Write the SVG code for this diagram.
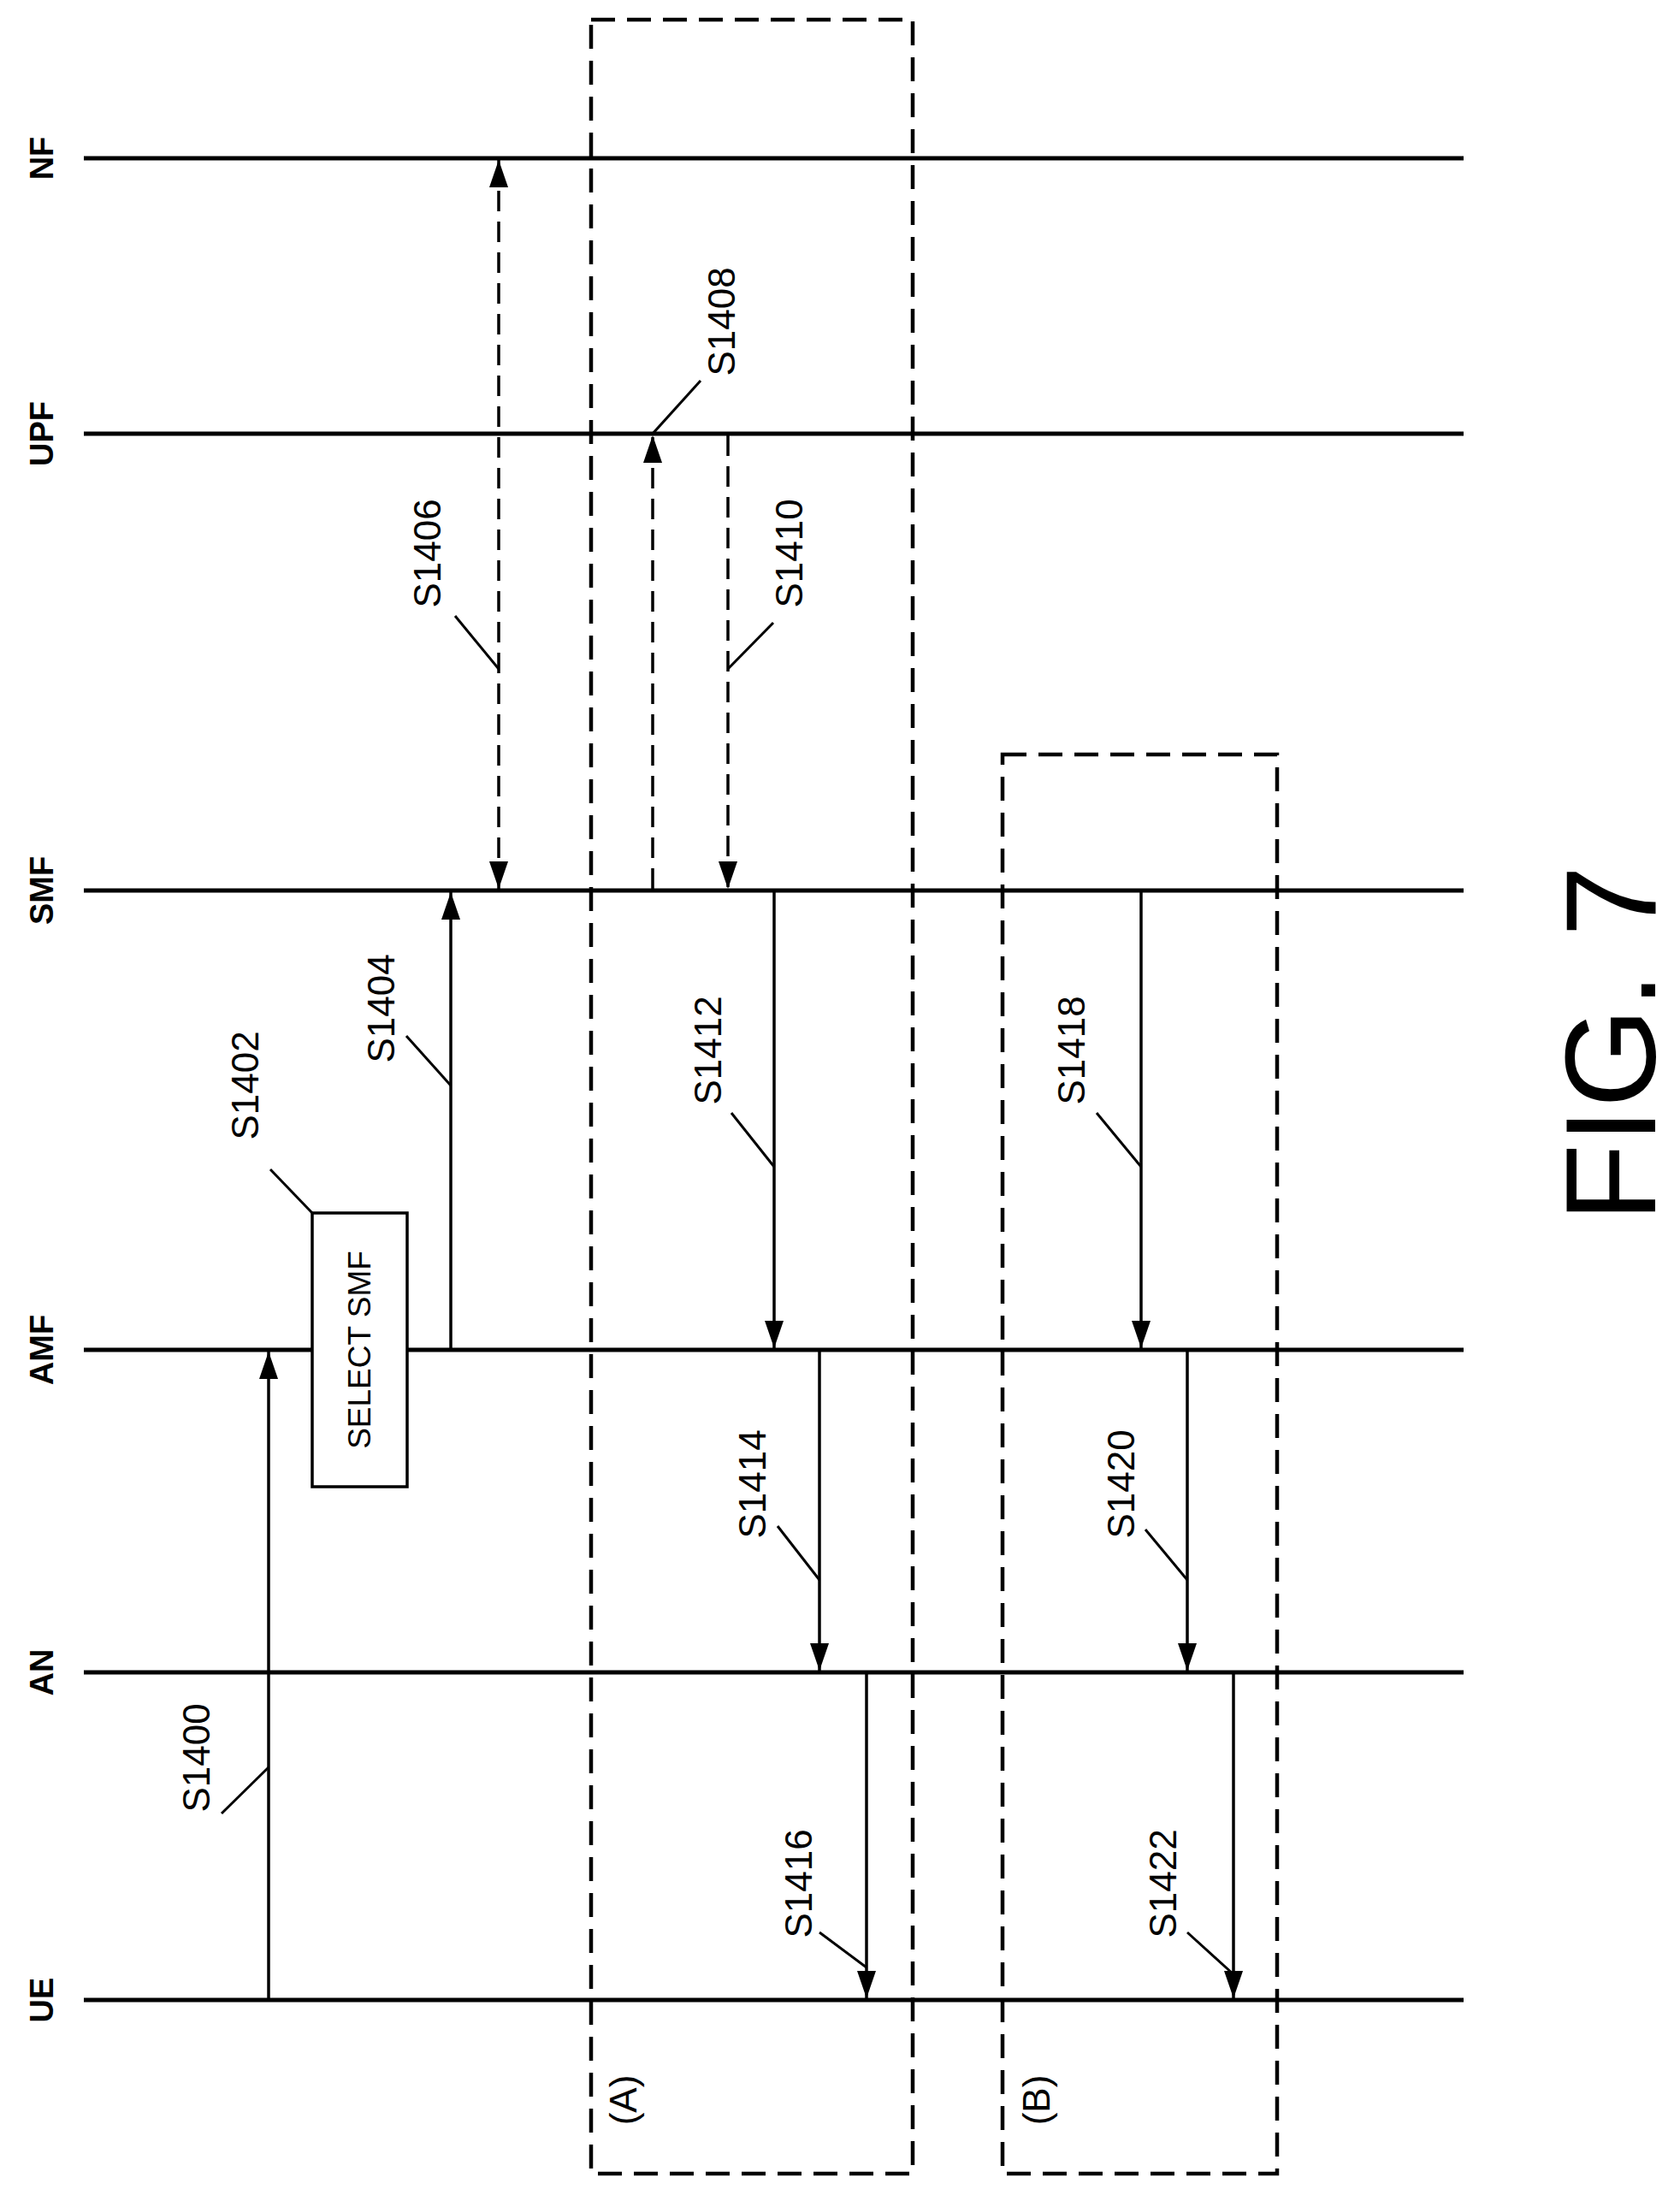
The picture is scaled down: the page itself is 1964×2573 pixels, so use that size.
<svg xmlns="http://www.w3.org/2000/svg" width="1964" height="2573" viewBox="0 0 1964 2573">
<style>
.life{stroke:#000;stroke-width:5;fill:none}
.msg{stroke:#000;stroke-width:3.5;fill:none}
.dash{stroke:#000;stroke-width:3.5;fill:none;stroke-dasharray:24 12}
.box{stroke:#000;stroke-width:4.5;fill:none;stroke-dasharray:28 14}
.lead{stroke:#000;stroke-width:3;fill:none}
.t{font-family:"Liberation Sans",Arial,sans-serif;font-size:44px;fill:#000}
.ln{font-family:"Liberation Sans",Arial,sans-serif;font-size:38px;font-weight:bold;fill:#000}
</style>
<defs>
<marker id="a" markerUnits="userSpaceOnUse" markerWidth="34" markerHeight="22" refX="32" refY="11" orient="auto-start-reverse" viewBox="0 0 34 22">
<path d="M0,0 L32,11 L0,22 Z" fill="#000"/>
</marker>
</defs>
<g id="lifelines">
<line class="life" x1="98" y1="185" x2="1711" y2="185"/>
<line class="life" x1="98" y1="507" x2="1711" y2="507"/>
<line class="life" x1="98" y1="1041" x2="1711" y2="1041"/>
<line class="life" x1="98" y1="1578" x2="1711" y2="1578"/>
<line class="life" x1="98" y1="1955" x2="1711" y2="1955"/>
<line class="life" x1="98" y1="2338" x2="1711" y2="2338"/>
<text class="ln" text-anchor="middle" dominant-baseline="central" transform="translate(49,185) rotate(-90)">NF</text>
<text class="ln" text-anchor="middle" dominant-baseline="central" transform="translate(49,507) rotate(-90)">UPF</text>
<text class="ln" text-anchor="middle" dominant-baseline="central" transform="translate(49,1041) rotate(-90)">SMF</text>
<text class="ln" text-anchor="middle" dominant-baseline="central" transform="translate(49,1578) rotate(-90)">AMF</text>
<text class="ln" text-anchor="middle" dominant-baseline="central" transform="translate(49,1955) rotate(-90)">AN</text>
<text class="ln" text-anchor="middle" dominant-baseline="central" transform="translate(49,2338) rotate(-90)">UE</text>
</g>
<g id="boxA">
<rect class="box" x="691" y="23" width="376" height="2518"/>
<text class="t" text-anchor="middle" dominant-baseline="central" transform="translate(728,2455) rotate(-90)">(A)</text>
</g>
<g id="boxB">
<rect class="box" x="1172" y="882" width="321" height="1659"/>
<text class="t" text-anchor="middle" dominant-baseline="central" transform="translate(1211,2455) rotate(-90)">(B)</text>
</g>
<g id="S1402">
<rect x="365" y="1418" width="111" height="320" fill="#fff" stroke="#000" stroke-width="3.5"/>
<text class="t" style="font-size:37px" text-anchor="middle" dominant-baseline="central" transform="translate(420,1578) rotate(-90)">SELECT SMF</text>
</g>
<g id="connectors">
<line class="msg" x1="314" y1="2338" x2="314" y2="1580" marker-end="url(#a)"/>
<line class="msg" x1="527" y1="1578" x2="527" y2="1043" marker-end="url(#a)"/>
<line class="dash" x1="583" y1="187" x2="583" y2="1039" marker-start="url(#a)" marker-end="url(#a)"/>
<line class="dash" x1="763" y1="1039" x2="763" y2="509" marker-end="url(#a)"/>
<line class="dash" x1="851" y1="509" x2="851" y2="1039" marker-end="url(#a)"/>
<line class="msg" x1="905" y1="1041" x2="905" y2="1576" marker-end="url(#a)"/>
<line class="msg" x1="958" y1="1578" x2="958" y2="1953" marker-end="url(#a)"/>
<line class="msg" x1="1013" y1="1955" x2="1013" y2="2336" marker-end="url(#a)"/>
<line class="msg" x1="1334" y1="1041" x2="1334" y2="1576" marker-end="url(#a)"/>
<line class="msg" x1="1388" y1="1578" x2="1388" y2="1953" marker-end="url(#a)"/>
<line class="msg" x1="1442" y1="1955" x2="1442" y2="2336" marker-end="url(#a)"/>
</g>
<g id="labels">
<line class="lead" x1="259" y1="2120" x2="314" y2="2066"/>
<text class="t" text-anchor="middle" dominant-baseline="central" transform="translate(229,2055) rotate(-90)">S1400</text>
<line class="lead" x1="316" y1="1367" x2="365" y2="1418"/>
<text class="t" text-anchor="middle" dominant-baseline="central" transform="translate(286,1269) rotate(-90)">S1402</text>
<line class="lead" x1="475" y1="1211" x2="527" y2="1269"/>
<text class="t" text-anchor="middle" dominant-baseline="central" transform="translate(445,1179) rotate(-90)">S1404</text>
<line class="lead" x1="532" y1="720" x2="583" y2="782"/>
<text class="t" text-anchor="middle" dominant-baseline="central" transform="translate(499,647) rotate(-90)">S1406</text>
<line class="lead" x1="819" y1="445" x2="763" y2="507"/>
<text class="t" text-anchor="middle" dominant-baseline="central" transform="translate(843,376) rotate(-90)">S1408</text>
<line class="lead" x1="904" y1="728" x2="851" y2="782"/>
<text class="t" text-anchor="middle" dominant-baseline="central" transform="translate(922,647) rotate(-90)">S1410</text>
<line class="lead" x1="855" y1="1301" x2="905" y2="1364"/>
<text class="t" text-anchor="middle" dominant-baseline="central" transform="translate(827,1228) rotate(-90)">S1412</text>
<line class="lead" x1="909" y1="1784" x2="958" y2="1847"/>
<text class="t" text-anchor="middle" dominant-baseline="central" transform="translate(879,1735) rotate(-90)">S1414</text>
<line class="lead" x1="958" y1="2259" x2="1013" y2="2300"/>
<text class="t" text-anchor="middle" dominant-baseline="central" transform="translate(933,2202) rotate(-90)">S1416</text>
<line class="lead" x1="1282" y1="1301" x2="1334" y2="1364"/>
<text class="t" text-anchor="middle" dominant-baseline="central" transform="translate(1252,1228) rotate(-90)">S1418</text>
<line class="lead" x1="1339" y1="1788" x2="1388" y2="1847"/>
<text class="t" text-anchor="middle" dominant-baseline="central" transform="translate(1310,1735) rotate(-90)">S1420</text>
<line class="lead" x1="1388" y1="2259" x2="1442" y2="2308"/>
<text class="t" text-anchor="middle" dominant-baseline="central" transform="translate(1359,2202) rotate(-90)">S1422</text>
</g>
<text font-family="Liberation Sans,Arial,sans-serif" font-size="150" text-anchor="middle" dominant-baseline="central" transform="translate(1883,1220) rotate(-90)">FIG. 7</text>
</svg>
